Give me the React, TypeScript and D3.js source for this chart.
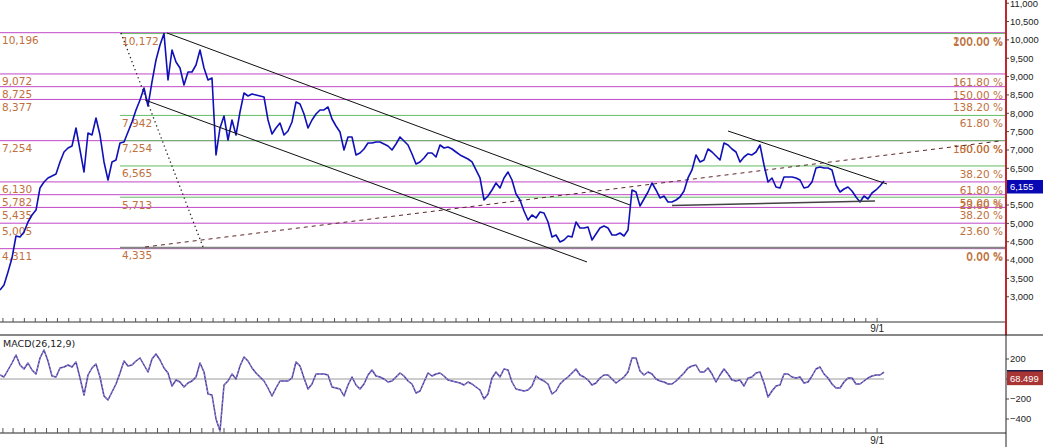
import * as d3 from 'd3';

// weekly-ish closes (about 11 days per point)
const price = [
  3185, 3321, 3675, 4056, 4656, 4629, 4765, 5038, 5228, 5364,
  5964, 6128, 6237, 6291, 6346, 6673, 6945, 7054, 7109, 7599,
  7000, 6400, 7463, 7408, 7872, 7408, 6673, 6182, 6673, 6727,
  7190, 7218, 7490, 7763, 8090, 8362, 8689, 8199, 8853, 9452,
  9861, 10172, 8907, 9725, 9398, 9234, 8771, 9125, 9125, 9316,
  9725, 9234, 8907, 8962, 6864, 7599, 7926, 7272, 7817, 7408,
  8035, 8553, 8471, 8526, 8498, 8471, 8444, 7817, 7436, 7599,
  7735, 7408, 7517, 7763, 8308, 8253, 7981, 7599, 7817, 7981,
  8090, 8090, 8171, 7844, 7654, 7490, 7000, 7354, 7354, 6864,
  6918, 7027, 7190, 7190, 7218, 7218, 7163, 7109, 7000, 7163,
  7354, 7245, 7136, 6891, 6618, 6673, 6782, 6918, 6918, 6809,
  7136, 7054, 7081, 7027, 6945, 6864, 6809, 6754, 6673, 6455,
  6237, 5637, 5746, 5910, 6100, 5964, 6237, 6400, 6182, 5801,
  5637, 5337, 5092, 5228, 5147, 5310, 5283, 5038, 4629, 4683,
  4493, 4547, 4656, 4629, 5038, 4874, 4874, 4901, 4547, 4711,
  4874, 4929, 4874, 4683, 4683, 4738, 4656, 4820, 5910, 5855,
  5474, 5664, 5855, 6100, 5910, 5692, 5746, 5583, 5583, 5637,
  5719, 5882, 6237, 6455, 6864, 6673, 6727, 7027, 6945, 6836,
  6727, 7190, 7136, 7027, 6945, 6673, 6809, 6891, 6864, 6945,
  7136, 6591, 6128, 6237, 5991, 5964, 6264, 6264, 6264, 6237,
  6182, 5964, 5991, 6128, 6509, 6536, 6509, 6509, 6455, 6046,
  5855, 5937, 5991, 5882, 5719, 5583, 5746, 5664, 5828, 5910,
  6019, 6155,
];

const macd = [
  40, 20, 90, 160, 240, 140, 100, 160, 90, 50,
  210, 290, 180, 30, 20, 110, 120, 140, 120, 170,
  10, -160, 40, 110, 150, 20, -170, -210, -130, -50,
  60, 180, 130, 140, 180, 210, 140, 70, 200, 250,
  190, 110, 60, -70, -10, -30, -80, -40, -20, 20,
  160, 70, -150, -160, -400, -520, -60, -20, 50, 0,
  130, 220, 180, 110, 60, 20, -20, -90, -170, -90,
  -20, -20, -20, 10, 170, 130, 10, -100, -50, 50,
  50, 50, 40, -80, -90, -100, -170, -60, 20, -60,
  -100, -50, 40, 90, 30, 20, 0, -30, -20, 20,
  60, 30, -20, -50, -140, -120, -30, 60, 30, 50,
  60, 30, -10, -20, -30, -40, -60, -30, -50, -80,
  -110, -200, -150, 10, 70, 20, 100, 90, -30, -100,
  -110, -120, -110, -70, 30, 0, -20, -50, -150, -120,
  -50, -10, 20, 60, 100, 40, 20, -10, -60, -40,
  10, 40, 40, 0, -40, -10, 20, 70, 210, 210,
  80, 40, 70, 50, 0, -20, -30, -50, -50, -20,
  20, 60, 110, 130, 140, 70, 70, 110, 50, -30,
  40, 100, 50, -10, -20, -10, -70, 10, 20, 60,
  70, -40, -180, -120, -70, -60, 50, 50, 20, 10,
  20, -40, -30, 30, 100, 120, 50, 10, -50, -90,
  -90, -30, 10, 10, -50, -50, -20, 10, 30, 40,
  40, 68.499,
];

const LAST_DATE = new Date(2013, 8, 20);
const STEP_DAYS = 11;
const LABEL_DATE = new Date(2013, 8, 1);

// extension fib (magenta) and retracement fib (green)
const fibA = [10196, 9072, 8725, 8377, 7254, 6130, 5782, 5435, 5005, 4311];
const fibAPct = ['200.00 %', '161.80 %', '150.00 %', '138.20 %', '100.00 %', '61.80 %', '50.00 %', '38.20 %', '23.60 %', '0.00 %'];
const fibB = [10172, 7942, 7254, 6565, 5713, 4335];
const fibBPct = ['100.00 %', '61.80 %', '50.00 %', '38.20 %', '23.60 %', '0.00 %'];
const fibBStart = 30;

// 6,000 and 0 sit under the last-value boxes, so only their tick marks show
const priceTicks = d3.range(3000, 11001, 500);
const priceTickLabels = priceTicks.filter(v => v !== 6000);
const macdTicks = [200, 0, -200, -400];
const macdTickLabels = [200, -200, -400];

// trend lines as [index, value] pairs
const solidTrends: [number, number][][] = [
  [[41.75, 10188], [157.5, 5501]],
  [[36.25, 8362], [146.75, 3948]],
  [[182, 7517], [221.75, 6073]],
  [[168, 5487], [218.75, 5610]],
];
const dottedTrend: [number, number][] = [[30.25, 10188], [50.75, 4356]];
const dashedTrend: [number, number][] = [[36.25, 4356], [250, 7245]];

const W = 1043;
const H = 447;
const PLOT_R = 1006;
const MAIN_B = 322;
const MACD_T = 335;
const MACD_B = 433;
const DATA_R = 884;

const LABEL_FONT = '"DejaVu Sans", Verdana, sans-serif';
const AXIS_FONT = '"Liberation Sans", Arial, sans-serif';
const LABEL_COLOR = '#c0703c';

export default function App() {
  const n = price.length;
  const x = d3.scaleLinear().domain([0, n - 1]).range([0, DATA_R]);
  const y = d3.scaleLinear().domain([11087, 3000]).range([0, (11087 - 3000) / 27.25]);
  const ym = d3.scaleLinear().domain([440, -540]).range([MACD_T, MACD_B]);

  const firstDate = d3.timeDay.offset(LAST_DATE, -(n - 1) * STEP_DAYS);
  const t = d3.scaleTime().domain([firstDate, LAST_DATE]).range([0, DATA_R]);
  const months = t.ticks(d3.timeMonth.every(1)!);
  const fmtDate = d3.timeFormat('%-m/%-d');

  const priceLine = d3.line<number>().x((_, i) => x(i)).y(d => y(d));
  const macdLine = d3.line<number>().x((_, i) => x(i)).y(d => ym(d));
  const seg = d3.line<[number, number]>().x(d => x(d[0])).y(d => y(d[1]));

  const fmt = d3.format(',');
  const lastPrice = price[n - 1];
  const lastMacd = macd[n - 1];

  return (
    <svg width={W} height={H} style={{ position: 'absolute', left: 0, top: 0, background: '#fff' }}>
      <defs>
        <clipPath id="mainClip"><rect x={0} y={0} width={PLOT_R} height={MAIN_B} /></clipPath>
        <clipPath id="macdClip"><rect x={0} y={MACD_T} width={PLOT_R} height={MACD_B - MACD_T} /></clipPath>
      </defs>
      <rect width={W} height={H} fill="#fff" />

      <g clipPath="url(#mainClip)">
        {fibA.map((v, i) => (
          <line key={'fa' + i} x1={0} x2={PLOT_R} y1={y(v)} y2={y(v)} stroke="#c048c8" strokeWidth={1} />
        ))}
        {fibB.map((v, i) => (
          <line key={'fb' + i} x1={x(fibBStart)} x2={PLOT_R} y1={y(v)} y2={y(v)}
            stroke={i === fibB.length - 1 ? '#858585' : '#62bd62'} strokeWidth={i === fibB.length - 1 ? 2 : 1} />
        ))}

        <g fontFamily={LABEL_FONT} fontSize={10.5} fill={LABEL_COLOR}>
          {fibA.map((v, i) => (
            <text key={'la' + i} x={2} y={y(v) + 11.5}>{fmt(v)}</text>
          ))}
          {fibB.map((v, i) => (
            <text key={'lb' + i} x={x(fibBStart) + 2} y={y(v) + 11.5}>{fmt(v)}</text>
          ))}
          {fibA.map((v, i) => (
            <text key={'pa' + i} x={1003} y={y(v) + 12} textAnchor="end">{fibAPct[i]}</text>
          ))}
          {fibB.map((v, i) => (
            <text key={'pb' + i} x={1003} y={y(v) + 12} textAnchor="end">{fibBPct[i]}</text>
          ))}
        </g>

        <path d={seg(dottedTrend) ?? ''} fill="none" stroke="#222" strokeWidth={1.3} strokeDasharray="1.3,3" />
        <path d={seg(dashedTrend) ?? ''} fill="none" stroke="#5e2828" strokeWidth={1} strokeDasharray="4,4" />

        <path d={priceLine(price) ?? ''} fill="none" stroke="#1010b8" strokeWidth={1.6} strokeLinejoin="round" />

        {solidTrends.map((s, i) => (
          <path key={'tr' + i} d={seg(s) ?? ''} fill="none" stroke={i === 3 ? '#444' : '#111'} strokeWidth={i === 3 ? 1.5 : 1} />
        ))}
      </g>

      {/* main panel bottom + time ticks */}
      <line x1={0} x2={PLOT_R} y1={MAIN_B} y2={MAIN_B} stroke="#333" />
      {months.map((m, i) => (
        <line key={'mt' + i} x1={t(m)} x2={t(m)} y1={MAIN_B - 4} y2={MAIN_B} stroke="#555" />
      ))}
      <text x={t(LABEL_DATE)} y={332} textAnchor="middle" fontFamily={AXIS_FONT} fontSize={10} fill="#222">{fmtDate(LABEL_DATE)}</text>

      {/* price axis */}
      <line x1={PLOT_R} x2={PLOT_R} y1={0} y2={MACD_T} stroke="#c0282a" strokeWidth={2} />
      {priceTicks.map(v => (
        <line key={'ptk' + v} x1={PLOT_R} x2={PLOT_R + 3} y1={y(v)} y2={y(v)} stroke="#444" />
      ))}
      <g fontFamily={AXIS_FONT} fontSize={9.4} fill="#222">
        {priceTickLabels.map(v => (
          <text key={'pt' + v} x={PLOT_R + 4} y={Math.max(y(v) + 3.4, 7)}>{fmt(v)}</text>
        ))}
      </g>
      <rect x={PLOT_R + 1} y={y(lastPrice) - 1} width={W - PLOT_R - 1} height={13.5} fill="#0808b4" />
      <text x={PLOT_R + 4} y={y(lastPrice) + 9.3} fontFamily={AXIS_FONT} fontSize={9.4} fill="#fff">{fmt(lastPrice)}</text>

      {/* MACD panel */}
      <line x1={0} x2={W} y1={MACD_T} y2={MACD_T} stroke="#111" />
      <text x={3} y={347} fontFamily={LABEL_FONT} fontSize={9.5} fill="#222">MACD(26,12,9)</text>
      <g clipPath="url(#macdClip)">
        <line x1={0} x2={DATA_R} y1={ym(0)} y2={ym(0)} stroke="#9a9a9a" />
        <path d={macdLine(macd) ?? ''} fill="none" stroke="#4b3d9e" strokeWidth={1.5} strokeLinejoin="round" />
        <path d={macdLine(macd) ?? ''} fill="none" stroke="#b4aceb" strokeWidth={0.7} strokeDasharray="2,2" />
      </g>
      <line x1={0} x2={PLOT_R} y1={MACD_B} y2={MACD_B} stroke="#222" />
      {months.map((m, i) => (
        <line key={'mb' + i} x1={t(m)} x2={t(m)} y1={MACD_B - 5} y2={MACD_B} stroke="#555" />
      ))}
      <text x={t(LABEL_DATE)} y={444} textAnchor="middle" fontFamily={AXIS_FONT} fontSize={10} fill="#222">{fmtDate(LABEL_DATE)}</text>

      <line x1={PLOT_R} x2={PLOT_R} y1={MACD_T} y2={H} stroke="#222" />
      {macdTicks.map(v => (
        <line key={'mtk' + v} x1={PLOT_R} x2={PLOT_R + 3} y1={ym(v)} y2={ym(v)} stroke="#444" />
      ))}
      <g fontFamily={AXIS_FONT} fontSize={9.4} fill="#222">
        {macdTickLabels.map(v => (
          <text key={'mk' + v} x={PLOT_R + 4} y={ym(v) + 3.4}>{fmt(v)}</text>
        ))}
      </g>
      <rect x={PLOT_R + 1} y={ym(lastMacd) - 1.5} width={W - PLOT_R - 1} height={14.5} fill="#a83434" />
      <line x1={PLOT_R + 1} x2={W} y1={ym(lastMacd) - 1.5} y2={ym(lastMacd) - 1.5} stroke="#1c1c4c" strokeWidth={1.5} />
      <text x={PLOT_R + 4} y={ym(lastMacd) + 9.5} fontFamily={AXIS_FONT} fontSize={9.4} fill="#fff">{d3.format('.3f')(lastMacd)}</text>
    </svg>
  );
}
